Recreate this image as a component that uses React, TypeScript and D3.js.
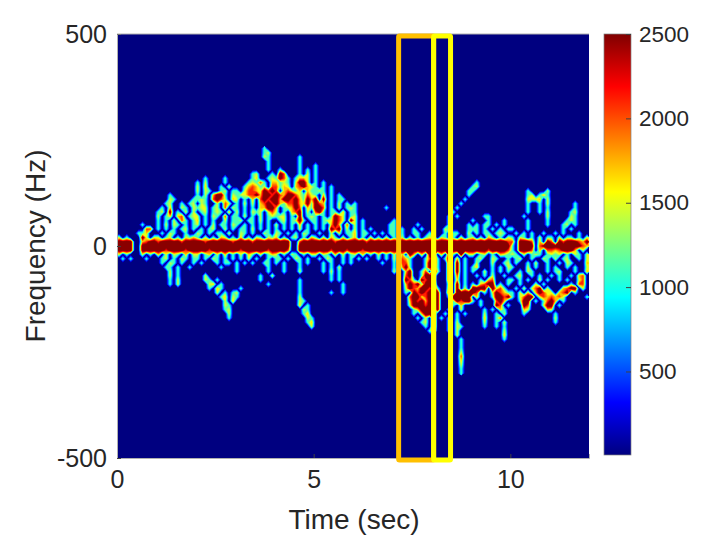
import { useEffect, useRef } from 'react'
import * as d3 from 'd3'

// spectrogram: one string per frequency bin, one char per 0.1 s
// . = background, 1..5 = levels below (5 is saturated, the colour scale clips at 2500)
const levels = [0, 1150, 1500, 1750, 2100, 2800]
const freqTop = 230
const freqStep = 10
const timeStep = 0.1
const spectrogram = [
  '.......... .......... .......... .......1.. .......... .......... .......... .......... .......... .......... .......... ..........',
  '.......... .......... .......... .......12. .......... .......... .......... .......... .......... .......... .......... ..........',
  '.......... .......... .......... .......21. ......1... .......... .......... .......... .......... .......... .......... ..........',
  '.......... .......... .......... ........1. ......1... .......... .......... .......... .......... .......... .......... ..........',
  '.......... .......... .......... ........1. ......1... 1......... .......... .......... .......... .......... .......... ..........',
  '.......... .......... .......... ........1. .1....1.1. 1......... .......... .......... .......... .......... .......... ..........',
  '.......... .......... .......... ....12...1 .54...1.2. 1......... .......... .......... .......... .......... .......... ..........',
  '.......... .......... ..1....1.. ....13..12 1541.1332. 1......... .......... .......... .......... .......... .......... ..........',
  '.......... .......... 1.2....1.. ...12141.3 3121.2552. 1.1....... .......... .......... .......... .1........ .......... ..........',
  '.......... .......... 2.3...1.2. ..134312.4 4132.34532 1.1.1..... .......... .......... .......... 12........ .......... ..........',
  '.......... .......... 2.21..12.1 1.24432545 4.34213.31 121.1..... .......... .......... .........1 1......... ....1....2 ..........',
  '.......... ...1...... 1.2.3551.2 1224453554 5435542142 1.3.1.1... .......... .......... .........1 .......... ....12.131 ..........',
  '.......... ...21....1 121.4542.3 2.1.3.4545 5355453153 5.5.1.11.. .......... .......... ........1. .......... ....2223.2 ..........',
  '.......... ..12..1.12 .21..2.42. 1.2.2.3454 5314453251 543.1.2.1. 1......... .......... .......1.. .......... ....1..1.2 ......1...',
  '.......... .1.3..21.2 122.12.4.2 1.1.1.3355 3.12354.31 554.1.2.12 1.......1. .......... ......1... .......... ....1..1.1 ......1...',
  '.......... 12.5.1.2.2 .12.121.3. 2.1.212.24 2.1.345.2. 451.11.3.1 1......... .......... .....1.... .......... ....1..1.2 .....12...',
  '.......... 2.13.34.12 2.1.21.4.1 1.2.1.2.12 122.1.5.12 1.1.1542.1 2......... .......... ....1.1... ...11..... ...1.....2 .....21...',
  '.......... 1.1.2.41.1 3.1.1..2.1 12.11.2.1. .12.1251.1 1.122542.5 2.1....... 1......... ....1..... 1...1...1. ....1....1 ....121...',
  '......1... 1.2.21.1.1 2.1.2.11.2 1.1.1.1.1. 2.1.1.3.1. 1.1.353.4. 2.1......1 1.....1... ....1....1 .1.11.1.1. ....1....1 ...12.1...',
  '.......44. 1.1.1.12.1 .1.12..2.1 .11.2.1.1. 1.1.1.2.1. 1.1.545.2. 2.1.1....1 1.1..1.1.. ...21....1 11.1.1.1.1 1...1..... ...1.1....',
  '.....113.. .1.21..1.. 21.1.11.2. .21.1..21. 21.1.1.21. .1..2.2.11 3.11.1.1.1 1.1..11..1 ...1.11..2 .1.11.121. .1.1.1..1. .1.1...1..',
  '2.1...52.2 2.12.1.213 1.2.1.32.1 .3.1.21.21 3.1.12.1.3 1.2.31.2.1 3.1.2.1.2. 1.2.1.1.12 1.21.1.2.1 2.1.31.1.2 1.21.1.2.1 1.2.11.1.2',
  '5555..3455 4555554555 5545555554 5555455555 5555..4555 5555545555 5554555555 5555555555 5555555555 5555555554 4.5554.3.5 4.54555435',
  '5555..5555 5555555555 5555555555 5555555555 5555..5555 5555555555 5555555555 5555555555 5555555555 5555555555 1.5555.455 5555555543',
  '5555..5555 5545555455 5554555555 5455555545 5554..5555 5555455545 5545555555 5555555555 5555555555 5555455554 1.5554.3.4 4345553.2.',
  '2.1...2.1. 3.2.21.3.2 2.13.2.3.1 .2.31.2.13 2.1.21.1.2 2.21.3.2.1 2.3.1.2.1. 2.3.53.3.5 5.3.51.5.2 2.12.1.321 21.2.121.1 212.1.21.2',
  '.1.1...1.. .12.1.21.1 1.1.21.1.1 .1.2.1..1. 11.1.21.1. .1.21..1.1 .1.1..1.1. 2.431...14 51.15.3.1. .12..21..1 .12..1..21 .2.12..1.2',
  '.......... .1.21.1..1 .1...1.11. 1.1.1..11. 1.1...1.1. ..1.1..1.1 .......1.. 1.441...15 51..5.5.1. .2...2..12 .1..1.2..1 ..1.21...3',
  '.......... ..11.1..1. ......1... 1.......1. ..1...1... ..1.1.2... .......... 1.351...15 41..5.5.1. 13...1.1.2 1...2.1..1 .1..1.1..2',
  '.......... ...2.1.... .......... 1.......1. ..1...2... ..1.2.1... .......... 2..35..14. 52..5.5.1. 1..2.1.1.1 ..1.21...1 .12...1..3',
  '.......... ...2.1.... ..2....... ......1..2 .......... ....1.1... .......... ...45..155 4...5.4.1. .1.1.2..1. .12..1.1.. 1.1..1.34.',
  '.......... ...1.2.... ..21.1.... ......1... ......1... ....1.1... .......... ...541.545 3...5.3.1. ..1.34...1 1.1.1..2.1 ..1.1..24.',
  '.......... ...1.2.... ...23.1... ........1. ......1... .......1.. .......... ...3545155 5...3.5.1. 1.3455.1.1 ..1...2.1. .....1.44.',
  '.......... .......... ...1.31... .1........ ......1... .......1.. .......... ...2543554 51..4.5.2. 5555.5241. .1.2.245.2 ...3455.2.',
  '.......... .......... .....2.1.1 2......... ......1... ....1..1.. .......... ...1.54545 55..5.5555 54.1.25431 1.2.3.3542 2.345.1...',
  '.......... .......... ......13.2 1......... ......2... .......... .......... ....455245 45..155555 .3...15545 1.2455.243 4342.....1',
  '.......... .......... .......2.3 .......... ......21.. .......... .......... ....354535 55...15455 1.1...453. ..155.1.14 53.1......',
  '.......... .......... .......21. .......... ......3.1. .......... .......... ....255545 35...1.3.. ..1...54.1 ...54...25 5.1.......',
  '.......... .......... .......12. .......... .......21. .......... .......... .....13555 15..1..2.. ...1.1.31. ...32....3 2.........',
  '.......... .......... ........2. .......... .......13. .......... .......... .....1.355 5..1..1.1. ...2..1.2. ...1...... .1........',
  '.......... .......... ........1. .......... ........21 .......... .......... ......1.2. 5.1.1.1... ...3..14.. .......... .2........',
  '.......... .......... .......... .......... ........13 .......... .......... .......12. 5...1.2... ...2..1.2. .......... .1........',
  '.......... .......... .......... .......... .........2 .......... .......... ........1. 5...1.21.. ...1..1.1. .......... ..........',
  '.......... .......... .......... .......... .......... .......... .......... .........1 4...1.2... ........2. .......... ..........',
  '.......... .......... .......... .......... .......... .......... .......... .......... ......2... ........3. .......... ..........',
  '.......... .......... .......... .......... .......... .......... .......... .......... .......1.. ........1. .......... ..........',
  '.......... .......... .......... .......... .......... .......... .......... .......... .......1.. .......... .......... ..........',
  '.......... .......... .......... .......... .......... .......... .......... .......... .......1.. .......... .......... ..........',
  '.......... .......... .......... .......... .......... .......... .......... .......... .......2.. .......... .......... ..........',
  '.......... .......... .......... .......... .......... .......... .......... .......... .......4.. .......... .......... ..........',
  '.......... .......... .......... .......... .......... .......... .......... .......... .......3.. .......... .......... ..........',
  '.......... .......... .......... .......... .......... .......... .......... .......... .......2.. .......... .......... ..........',
  '.......... .......... .......... .......... .......... .......... .......... .......... .......1.. .......... .......... ..........',
  '.......... .......... .......... .......... .......... .......... .......... .......... .......1.. .......... .......... ..........',
].map((row) => row.replace(/ /g, ''))

const timeTicks = [0, 5, 10]
const freqTicks = [-500, 0, 500]
const barTicks = [500, 1000, 1500, 2000, 2500]
const timeWindows = [
  { start: 7.16, end: 8.05, color: '#ffc000' },
  { start: 8.05, end: 8.48, color: '#ffff00' },
]

// jet
const jetStops = [0, 0.125, 0.375, 0.625, 0.875, 1]
const jetColors = ['#000080', '#0000ff', '#00ffff', '#ffff00', '#ff0000', '#800000']

const App = () => {
  const svgRef = useRef<SVGSVGElement>(null)

  useEffect(() => {
    if (!svgRef.current) return
    const svg = d3.select(svgRef.current)
    svg.selectAll('*').remove()

    const x = d3.scaleLinear().domain([0, 12]).range([117, 589])
    const y = d3.scaleLinear().domain([-500, 500]).range([458, 34])
    const barY = d3.scaleLinear().domain([5, 2500]).range([455, 34])
    const jet = d3
      .scaleLinear<string>()
      .domain(jetStops.map((s) => s * 2500))
      .range(jetColors)
      .clamp(true)

    // image area
    svg
      .append('rect')
      .attr('x', x(0))
      .attr('y', y(500))
      .attr('width', x(12) - x(0))
      .attr('height', y(-500) - y(500))
      .attr('fill', jet(0))

    // contours stand in for the interpolated image shading
    const nCols = spectrogram[0].length
    const nRows = spectrogram.length
    const values: number[] = []
    spectrogram.forEach((row) => {
      for (let c = 0; c < nCols; c++) {
        const ch = row[c]
        values.push(ch === '.' || ch === undefined ? 0 : levels[+ch])
      }
    })
    const thresholds = d3.range(150, 2550, 75)
    const contours = d3.contours().size([nCols, nRows]).thresholds(thresholds)(values)
    const project = d3.geoTransform({
      point(px, py) {
        this.stream.point(x(px * timeStep), y(freqTop + freqStep / 2 - py * freqStep))
      },
    })
    const path = d3.geoPath(project)
    svg
      .append('g')
      .selectAll('path')
      .data(contours)
      .join('path')
      .attr('d', (d) => path(d as any))
      .attr('fill', (d) => jet(d.value))

    // axes
    const xAxis = svg
      .append('g')
      .attr('transform', `translate(0,${y(-500)})`)
      .call(d3.axisBottom(x).tickValues(timeTicks).tickSize(-4).tickPadding(12).tickFormat(String as any))
    const yAxis = svg
      .append('g')
      .attr('transform', `translate(${x(0)},0)`)
      .call(d3.axisLeft(y).tickValues(freqTicks).tickSize(-4).tickPadding(10).tickFormat(String as any))
    ;[xAxis, yAxis].forEach((a) => {
      a.selectAll('text').style('font-size', '25px').style('fill', '#262626')
      a.selectAll('line').attr('stroke', '#404040')
      a.select('.domain').attr('stroke', '#b0b0b0')
    })
    svg
      .append('line')
      .attr('x1', x(0))
      .attr('x2', x(12))
      .attr('y1', y(500))
      .attr('y2', y(500))
      .attr('stroke', '#b0b0b0')

    // highlighted time windows
    timeWindows.forEach((w) => {
      svg
        .append('rect')
        .attr('x', x(w.start))
        .attr('y', y(500) + 2)
        .attr('width', x(w.end) - x(w.start))
        .attr('height', y(-500) - y(500))
        .attr('fill', 'none')
        .attr('stroke', w.color)
        .attr('stroke-width', 5)
        .attr('rx', 1)
    })

    // colorbar
    const gradId = 'jet-bar'
    const grad = svg
      .append('defs')
      .append('linearGradient')
      .attr('id', gradId)
      .attr('x1', 0)
      .attr('x2', 0)
      .attr('y1', 1)
      .attr('y2', 0)
    jetStops.forEach((s, i) => {
      grad.append('stop').attr('offset', s).attr('stop-color', jetColors[i])
    })
    svg
      .append('rect')
      .attr('x', 604)
      .attr('y', barY(2500))
      .attr('width', 27)
      .attr('height', barY(5) - barY(2500))
      .attr('fill', `url(#${gradId})`)
      .attr('stroke', '#808080')
      .attr('stroke-width', 0.7)
    const barAxis = svg
      .append('g')
      .attr('transform', 'translate(631,0)')
      .call(d3.axisRight(barY).tickValues(barTicks).tickSize(-5).tickPadding(8).tickFormat(String as any))
    barAxis.select('.domain').remove()
    barAxis.selectAll('line').attr('stroke', '#404040')
    barAxis.selectAll('text').style('font-size', '22.5px').style('fill', '#262626')

    // axis labels
    svg
      .append('text')
      .attr('x', 354)
      .attr('y', 529)
      .attr('text-anchor', 'middle')
      .style('font-size', '28px')
      .style('fill', '#262626')
      .text('Time (sec)')
    svg
      .append('text')
      .attr('transform', 'translate(45,246) rotate(-90)')
      .attr('text-anchor', 'middle')
      .style('font-size', '28px')
      .style('fill', '#262626')
      .text('Frequency (Hz)')

    svg.selectAll('text').style('font-family', '"Liberation Sans", Arial, sans-serif')
  }, [])

  return (
    <svg
      ref={svgRef}
      width={718}
      height={541}
      style={{ position: 'absolute', left: 0, top: 0, background: '#fff' }}
    />
  )
}

export default App
